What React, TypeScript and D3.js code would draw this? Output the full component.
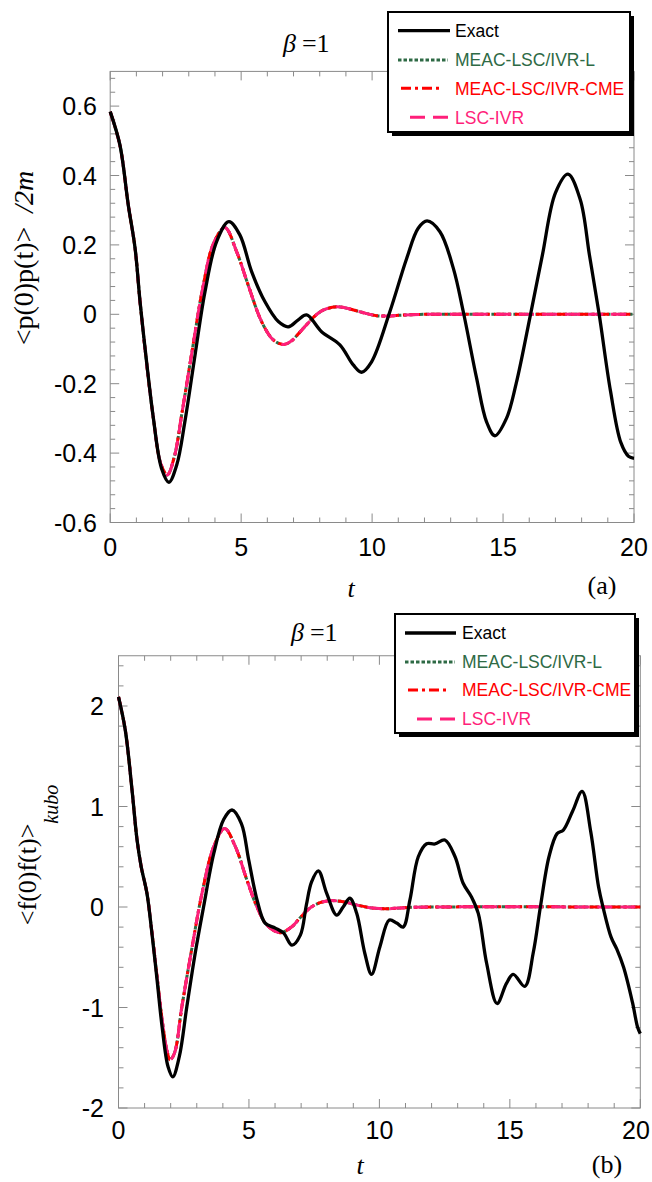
import React from 'react';
import * as d3 from 'd3';

type P = [number, number];

const T_TICKS = [0, 5, 10, 15, 20];
const A_Y_TICKS = [-0.6, -0.4, -0.2, 0, 0.2, 0.4, 0.6];
const B_Y_TICKS = [-2, -1, 0, 1, 2];
const LEGEND_LABELS = ['Exact', 'MEAC-LSC/IVR-L', 'MEAC-LSC/IVR-CME', 'LSC-IVR'];

// Panel (a): <p(0)p(t)>/2m
const A_EXACT: P[] = [
  [0, 0.584], [0.37, 0.488], [0.69, 0.315], [0.95, 0.19], [1.14, 0.036], [1.39, -0.137],
  [1.65, -0.3], [1.96, -0.444], [2.24, -0.484], [2.54, -0.434], [2.85, -0.31], [3.24, -0.117],
  [3.62, 0.065], [4.06, 0.209], [4.53, 0.267], [4.95, 0.229], [5.4, 0.123], [5.91, 0.036],
  [6.42, -0.021], [6.8, -0.036], [7.18, -0.016], [7.5, -0.002], [8.07, -0.05], [8.77, -0.088],
  [9.28, -0.146], [9.6, -0.167], [9.98, -0.137], [10.68, 0.008], [11.32, 0.161], [11.76, 0.248],
  [12.1, 0.269], [12.59, 0.238], [13.1, 0.133], [13.48, 0.008], [13.99, -0.184], [14.37, -0.31],
  [14.69, -0.35], [15.13, -0.3], [15.5, -0.2], [16.05, 0.0], [16.5, 0.17], [17.0, 0.35],
  [17.48, 0.404], [17.95, 0.33], [18.3, 0.17], [18.67, 0.0], [19.1, -0.22], [19.5, -0.37],
  [19.8, -0.41], [20, -0.415],
];
const A_APPROX: P[] = [
  [0, 0.584], [0.37, 0.488], [0.69, 0.315], [0.95, 0.19], [1.14, 0.036], [1.39, -0.14],
  [1.65, -0.3], [1.93, -0.43], [2.18, -0.463], [2.45, -0.41], [2.75, -0.28], [3.14, -0.1],
  [3.52, 0.07], [3.95, 0.205], [4.38, 0.25], [4.83, 0.18], [5.27, 0.084], [5.78, -0.021],
  [6.23, -0.074], [6.61, -0.087], [6.9, -0.078], [7.2, -0.055], [7.5, -0.03], [7.8, -0.006],
  [8.13, 0.012], [8.65, 0.022], [9.0, 0.018], [9.41, 0.01], [9.8, 0.002], [10.17, -0.004],
  [10.6, -0.005], [11.0, -0.003], [11.95, 0], [13, 0], [20, 0],
];
const A_MEAC_L: P[] = A_APPROX;
const A_MEAC_CME: P[] = A_APPROX;
const A_LSC_IVR: P[] = A_APPROX;

// Panel (b): <f(0)f(t)>_kubo
const B_EXACT: P[] = [
  [0, 2.09], [0.26, 1.76], [0.52, 1.16], [0.71, 0.67], [0.87, 0.4], [1.09, 0.136], [1.28, -0.26],
  [1.48, -0.73], [1.67, -1.19], [1.9, -1.59], [2.08, -1.69], [2.33, -1.49], [2.62, -0.99],
  [2.94, -0.46], [3.26, 0.0], [3.65, 0.53], [4.03, 0.87], [4.35, 0.965], [4.71, 0.83],
  [4.99, 0.47], [5.31, 0.07], [5.62, -0.16], [6.01, -0.21], [6.33, -0.26], [6.65, -0.38],
  [6.97, -0.28], [7.2, 0.02], [7.4, 0.25], [7.66, 0.36], [7.98, 0.136], [8.36, -0.08],
  [8.61, 0.0], [8.87, 0.087], [9.13, -0.063], [9.44, -0.46], [9.7, -0.67], [10.02, -0.395],
  [10.38, -0.13], [10.66, -0.16], [10.91, -0.2], [11.17, 0.07], [11.49, 0.5], [11.81, 0.63],
  [12.13, 0.627], [12.51, 0.667], [12.9, 0.5], [13.21, 0.236], [13.53, 0.1], [13.79, -0.063],
  [14.11, -0.56], [14.51, -0.96], [14.87, -0.76], [15.13, -0.67], [15.57, -0.79], [15.9, -0.45],
  [16.17, 0.0], [16.5, 0.5], [16.81, 0.73], [17.05, 0.766], [17.4, 0.95], [17.77, 1.15],
  [18.1, 0.75], [18.4, 0.2], [18.57, 0.0], [18.88, -0.3], [19.1, -0.42], [19.36, -0.6],
  [19.7, -0.95], [19.9, -1.2], [20, -1.26],
];
const B_APPROX: P[] = [
  [0, 2.09], [0.26, 1.76], [0.52, 1.16], [0.71, 0.67], [0.87, 0.4], [1.09, 0.136], [1.28, -0.25],
  [1.48, -0.7], [1.67, -1.12], [1.85, -1.42], [1.98, -1.52], [2.15, -1.45], [2.43, -0.99],
  [2.82, -0.4], [3.2, 0.136], [3.65, 0.6], [4.07, 0.78], [4.48, 0.6], [4.92, 0.27], [5.31, 0.0],
  [5.69, -0.18], [6.2, -0.255], [6.65, -0.195], [6.95, -0.11], [7.34, -0.01], [7.72, 0.043],
  [8.1, 0.063], [8.61, 0.053], [9.13, 0.02], [9.64, -0.007], [10.27, -0.017], [11.1, -0.005],
  [12, 0], [20, 0],
];
const B_MEAC_L: P[] = B_APPROX;
const B_MEAC_CME: P[] = B_APPROX;
const B_LSC_IVR: P[] = B_APPROX;

const SERIES_STYLE = [
  { color: '#000000', dash: undefined as string | undefined, width: 3.3 },
  { color: '#2e6a45', dash: '3.5,2', width: 3 },
  { color: '#ff0000', dash: '10,4,3,4', width: 3 },
  { color: '#ff1f7a', dash: '15,8', width: 3 },
];

const SANS = '"Liberation Sans", Arial, sans-serif';
const SERIF = '"Liberation Serif", "Times New Roman", serif';
const AXIS = '#8a8a8a';

interface PanelProps {
  x: d3.ScaleLinear<number, number>;
  y: d3.ScaleLinear<number, number>;
  yTicks: number[];
  yMinor: number[];
  yFmt: (v: number) => string;
  yLabelRight: number;
  xLabelBase: number;
  series: P[][];
}

function Panel({ x, y, yTicks, yMinor, yFmt, yLabelRight, xLabelBase, series }: PanelProps) {
  const [x0, x1] = x.range();
  const [y0, y1] = y.range();
  const xMinor = d3.range(0, 21, 1);
  const isMajorX = (t: number) => T_TICKS.includes(t);
  const isMajorY = (v: number) => yTicks.some((m) => Math.abs(m - v) < 1e-6);
  const line = d3
    .line<P>()
    .x((d) => x(d[0]))
    .y((d) => y(d[1]))
    .curve(d3.curveCatmullRom.alpha(0.5));
  const order = [1, 2, 3, 0];
  return (
    <g>
      <rect x={x0} y={y1} width={x1 - x0} height={y0 - y1} fill="none" stroke={AXIS} strokeWidth={1} />
      {xMinor.map((t) => {
        const L = isMajorX(t) ? 9 : 5;
        const px = x(t);
        return (
          <g key={'xt' + t}>
            <line x1={px} x2={px} y1={y0} y2={y0 - L} stroke={AXIS} />
            <line x1={px} x2={px} y1={y1} y2={y1 + L} stroke={AXIS} />
          </g>
        );
      })}
      {yMinor.map((v, i) => {
        const L = isMajorY(v) ? 9 : 5;
        const py = y(v);
        return (
          <g key={'yt' + i}>
            <line x1={x0} x2={x0 + L} y1={py} y2={py} stroke={AXIS} />
            <line x1={x1} x2={x1 - L} y1={py} y2={py} stroke={AXIS} />
          </g>
        );
      })}
      {T_TICKS.map((t) => (
        <text
          key={'xl' + t}
          x={Math.min(x(t), 636)}
          y={xLabelBase}
          textAnchor="middle"
          fontFamily={SANS}
          fontSize={25}
          fill="#000"
        >
          {t}
        </text>
      ))}
      {yTicks.map((v) => (
        <text key={'yl' + v} x={yLabelRight} y={y(v)} dy="0.36em" textAnchor="end" fontFamily={SANS} fontSize={25} fill="#000">
          {yFmt(v)}
        </text>
      ))}
      {order.map((si) => {
        const st = SERIES_STYLE[si];
        return (
          <path
            key={'s' + si}
            d={line(series[si]) || ''}
            fill="none"
            stroke={st.color}
            strokeWidth={st.width}
            strokeDasharray={st.dash}
            strokeLinejoin="round"
          />
        );
      })}
    </g>
  );
}

interface LegendProps {
  bx: number;
  by: number;
  bw: number;
  bh: number;
  rows: number[];
  lines: [number, number][];
  textX: number;
}

function Legend({ bx, by, bw, bh, rows, lines, textX }: LegendProps) {
  return (
    <g>
      <rect x={bx + 4} y={by + 4} width={bw} height={bh} fill="#000" />
      <rect x={bx} y={by} width={bw} height={bh} fill="#fff" stroke="#000" strokeWidth={2} />
      {LEGEND_LABELS.map((lab, i) => {
        const st = SERIES_STYLE[i];
        return (
          <g key={lab}>
            <line
              x1={lines[i][0]}
              x2={lines[i][1]}
              y1={rows[i]}
              y2={rows[i]}
              stroke={st.color}
              strokeWidth={st.width}
              strokeDasharray={st.dash}
            />
            <text x={textX} y={rows[i]} dy="0.36em" fontFamily={SANS} fontSize={17.5} fill={i === 0 ? '#000' : st.color}>
              {lab}
            </text>
          </g>
        );
      })}
    </g>
  );
}

export default function App() {
  const xA = d3.scaleLinear().domain([0, 20]).range([110.2, 634]);
  const yA = d3.scaleLinear().domain([-0.6, 0.7]).range([522.5, 71.4]);
  const xB = d3.scaleLinear().domain([0, 20]).range([118.5, 640.3]);
  const yB = d3.scaleLinear().domain([-2, 2.5]).range([1108, 655.75]);

  const aMinor = d3.range(0, 33).map((k) => -0.6 + 0.04 * k).filter((v) => v <= 0.7 + 1e-9);
  const bMinor = d3.range(0, 23).map((k) => -2 + 0.2 * k).filter((v) => v <= 2.5 + 1e-9);

  const fmtA = (v: number) => (Math.abs(v) < 1e-9 ? '0' : d3.format('.1f')(v).replace('−', '-'));
  const fmtB = (v: number) => String(v);

  return (
    <svg
      width={652}
      height={1182}
      style={{ position: 'absolute', left: 0, top: 0, background: '#fff' }}
      xmlns="http://www.w3.org/2000/svg"
    >
      <rect x={0} y={0} width={652} height={1182} fill="#fff" />

      {/* Panel (a) */}
      <Panel
        x={xA}
        y={yA}
        yTicks={A_Y_TICKS}
        yMinor={aMinor}
        yFmt={fmtA}
        yLabelRight={97}
        xLabelBase={556}
        series={[A_EXACT, A_MEAC_L, A_MEAC_CME, A_LSC_IVR]}
      />
      <text x={283} y={52} fontFamily={SERIF} fontSize={26} fill="#000">
        <tspan fontStyle="italic">β</tspan>
        <tspan dx={6}>=1</tspan>
      </text>
      <text transform="translate(33,258) rotate(-90)" textAnchor="middle" fontFamily={SERIF} fontSize={28} fill="#000">
        <tspan>{'<p(0)p(t)>'}</tspan>
        <tspan dx={14} fontStyle="italic">/2m</tspan>
      </text>
      <text x={351} y={597} textAnchor="middle" fontFamily={SERIF} fontStyle="italic" fontSize={26} fill="#000">
        t
      </text>
      <text x={602} y={594} textAnchor="middle" fontFamily={SERIF} fontSize={26} fill="#000">
        (a)
      </text>
      <Legend
        bx={388}
        by={12}
        bw={242}
        bh={120}
        rows={[30.7, 60, 88.3, 117.3]}
        lines={[[398, 450], [398, 448], [401, 443], [410, 448]]}
        textX={455}
      />

      {/* Panel (b) */}
      <Panel
        x={xB}
        y={yB}
        yTicks={B_Y_TICKS}
        yMinor={bMinor}
        yFmt={fmtB}
        yLabelRight={104}
        xLabelBase={1139}
        series={[B_EXACT, B_MEAC_L, B_MEAC_CME, B_LSC_IVR]}
      />
      <text x={291} y={641} fontFamily={SERIF} fontSize={26} fill="#000">
        <tspan fontStyle="italic">β</tspan>
        <tspan dx={6}>=1</tspan>
      </text>
      <text transform="translate(36,855) rotate(-90)" textAnchor="middle" fontFamily={SERIF} fontSize={26} fill="#000">
        <tspan>{'<f(0)f(t)>'}</tspan>
        <tspan dy={22} fontSize={20} fontStyle="italic">kubo</tspan>
      </text>
      <text x={360} y={1174} textAnchor="middle" fontFamily={SERIF} fontStyle="italic" fontSize={26} fill="#000">
        t
      </text>
      <text x={607} y={1173} textAnchor="middle" fontFamily={SERIF} fontSize={26} fill="#000">
        (b)
      </text>
      <Legend
        bx={395}
        by={614}
        bw={240}
        bh={119}
        rows={[633, 662, 690, 719]}
        lines={[[405, 456], [405, 455], [408, 449], [417, 455]]}
        textX={462}
      />
    </svg>
  );
}
